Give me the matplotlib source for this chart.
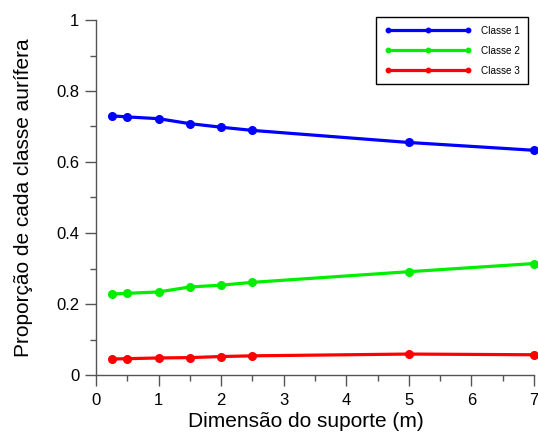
import matplotlib
matplotlib.use("Agg")
from matplotlib import pyplot as plt
from matplotlib.lines import Line2D
from matplotlib.ticker import MultipleLocator, FuncFormatter

plt.rcParams["font.family"] = ["Liberation Sans", "DejaVu Sans"]

# dados
suporte = [0.25, 0.5, 1.0, 1.5, 2.0, 2.5, 5.0, 7.0]
classe1 = [0.730, 0.727, 0.722, 0.708, 0.698, 0.689, 0.655, 0.633]
classe2 = [0.228, 0.230, 0.234, 0.248, 0.253, 0.261, 0.291, 0.314]
classe3 = [0.045, 0.046, 0.048, 0.049, 0.052, 0.054, 0.059, 0.057]
nomes = ["Classe 1", "Classe 2", "Classe 3"]
cores = ["#0000ff", "#00ee00", "#ff0000"]

fig = plt.figure(figsize=(5.38, 4.32), dpi=100)
ax = fig.add_axes([96 / 538, 57 / 432, 438 / 538, 355 / 432])

handles = []
for serie, nome, cor in zip([classe1, classe2, classe3], nomes, cores):
    ax.plot(suporte, serie, color=cor, lw=2.3, marker="o", ms=5.5, clip_on=False)
    handles.append(Line2D([0], [0], color=cor, lw=2.3, marker="o", ms=3.2, label=nome))

ax.set_xlim(0, 7)
ax.set_ylim(0, 1)
ax.xaxis.set_major_locator(MultipleLocator(1))
ax.xaxis.set_minor_locator(MultipleLocator(0.5))
ax.yaxis.set_major_locator(MultipleLocator(0.2))
ax.yaxis.set_minor_locator(MultipleLocator(0.1))
ax.yaxis.set_major_formatter(FuncFormatter(lambda v, p: "%g" % round(v, 1)))
ax.xaxis.set_major_formatter(FuncFormatter(lambda v, p: "%d" % round(v)))

for s in ["top", "right"]:
    ax.spines[s].set_visible(False)
for s in ["left", "bottom"]:
    ax.spines[s].set_color("#555555")
    ax.spines[s].set_linewidth(1.0)
ax.tick_params(which="major", direction="out", length=8, width=1, color="#555555", labelsize=12)
ax.tick_params(which="minor", direction="out", length=4, width=1, color="#555555")
ax.tick_params(axis="y", pad=4)
ax.tick_params(axis="x", pad=5)

ax.set_xlabel("Dimensão do suporte (m)", fontsize=15)
ax.xaxis.set_label_coords(0.48, -0.105)
ax.set_ylabel("Proporção de cada classe aurífera", fontsize=15, labelpad=17)

leg = ax.legend(handles=handles, loc="upper right", bbox_to_anchor=(528 / 538, 415 / 432),
                bbox_transform=fig.transFigure, numpoints=3, fontsize=7.2,
                handlelength=8.6, handletextpad=1.0, labelspacing=1.0,
                borderpad=0.85, borderaxespad=0, fancybox=False, framealpha=1)
leg.get_frame().set_edgecolor("black")
leg.get_frame().set_linewidth(1.0)

fig.savefig("out.png", dpi=100)
